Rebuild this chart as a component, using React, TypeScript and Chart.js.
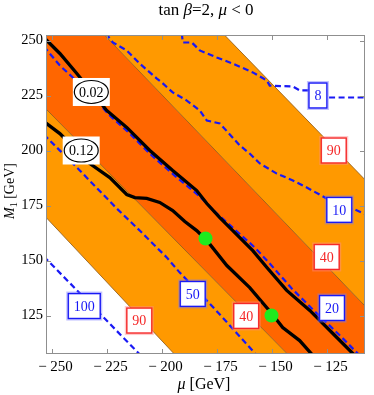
import React, { useEffect, useRef } from 'react';
import { Chart, registerables } from 'chart.js';

Chart.register(...registerables);

// ---- axis ranges and ticks ----
const X_MIN = -252.5;
const X_MAX = -107.5;
const Y_MIN = 107.5;
const Y_MAX = 252.5;
const xTicks = [-250, -225, -200, -175, -150, -125];
const yTicks = [125, 150, 175, 200, 225, 250];

// ---- filled band boundaries (mu, M1) ----
const bandUpperWhite = [{ x: -260, y: 343.8 }, { x: -100, y: 179.0 }];
const bandUpperDark = [{ x: -260, y: 287.9 }, { x: -100, y: 121.5 }];
const bandLowerDark = [{ x: -260, y: 226.5 }, { x: -100, y: 64.1 }];
const bandLowerWhite = [{ x: -260, y: 177.6 }, { x: -100, y: 7.2 }];

// ---- dashed blue contours ----
const contour8 = [
  { x: -190.8, y: 253.2 }, { x: -190.3, y: 249.1 }, { x: -186.2, y: 249.1 }, { x: -182.6, y: 245.5 },
  { x: -174.9, y: 242.3 }, { x: -167.6, y: 239.5 }, { x: -158.5, y: 235.5 }, { x: -152.1, y: 231.8 },
  { x: -150.8, y: 229.5 }, { x: -140.3, y: 229.1 }, { x: -137.2, y: 227.3 }, { x: -133.5, y: 227.3 },
  { x: -128.9, y: 224.5 }, { x: -124.9, y: 224.1 }, { x: -106.1, y: 224.1 },
];
const contour10 = [
  { x: -225.3, y: 253.2 }, { x: -222.1, y: 249.1 }, { x: -215.8, y: 245.5 }, { x: -209.9, y: 239.5 },
  { x: -202.1, y: 232.7 }, { x: -199.4, y: 230.5 }, { x: -194.9, y: 226.4 }, { x: -188.5, y: 222.7 },
  { x: -182.6, y: 218.2 }, { x: -179.4, y: 213.6 }, { x: -173.5, y: 212.3 }, { x: -164.4, y: 202.3 },
  { x: -159.9, y: 198.6 }, { x: -155.3, y: 194.1 }, { x: -147.6, y: 189.5 }, { x: -140.3, y: 186.4 },
  { x: -134.0, y: 183.2 }, { x: -124.9, y: 178.2 }, { x: -119.4, y: 173.2 }, { x: -113.0, y: 173.6 },
  { x: -106.1, y: 170.5 },
];
const contour20 = [
  { x: -253.5, y: 247.3 }, { x: -246.2, y: 238.6 }, { x: -240.3, y: 233.2 }, { x: -232.6, y: 225.9 },
  { x: -223.5, y: 215.9 }, { x: -214.4, y: 207.7 }, { x: -204.4, y: 197.7 }, { x: -194.0, y: 188.6 },
  { x: -182.6, y: 179.1 }, { x: -174.9, y: 171.4 }, { x: -166.7, y: 164.1 }, { x: -157.6, y: 155.9 },
  { x: -150.8, y: 148.6 }, { x: -140.8, y: 137.3 }, { x: -131.7, y: 128.2 }, { x: -118.9, y: 115.9 },
  { x: -109.0, y: 105.9 },
];
const contour50 = [
  { x: -253.5, y: 207.3 }, { x: -238.5, y: 192.3 }, { x: -220.3, y: 173.6 }, { x: -209.9, y: 163.6 },
  { x: -197.6, y: 151.4 }, { x: -191.7, y: 144.5 }, { x: -179.4, y: 131.8 }, { x: -172.6, y: 124.5 },
  { x: -155.8, y: 105.9 },
];
const contour100 = [
  { x: -253.5, y: 151.8 }, { x: -231.0, y: 128.9 }, { x: -208.5, y: 105.9 },
];

// ---- solid black contours ----
const contour002 = [
  { x: -253.5, y: 251.4 }, { x: -246.2, y: 244.1 }, { x: -238.5, y: 235.0 }, { x: -224.9, y: 218.2 },
  { x: -215.8, y: 210.5 }, { x: -205.3, y: 200.0 }, { x: -194.9, y: 190.9 }, { x: -184.0, y: 181.8 },
  { x: -179.4, y: 175.9 }, { x: -173.5, y: 169.5 }, { x: -167.6, y: 163.6 }, { x: -158.5, y: 154.5 },
  { x: -152.1, y: 146.8 }, { x: -143.1, y: 136.4 }, { x: -132.6, y: 127.3 }, { x: -122.1, y: 116.8 },
  { x: -111.2, y: 105.9 },
];
const contour012 = [
  { x: -253.5, y: 213.2 }, { x: -246.2, y: 207.7 }, { x: -232.6, y: 194.1 }, { x: -223.5, y: 187.7 },
  { x: -215.8, y: 180.0 }, { x: -212.1, y: 178.6 }, { x: -206.7, y: 178.2 }, { x: -200.8, y: 176.4 },
  { x: -194.9, y: 172.7 }, { x: -189.4, y: 167.7 }, { x: -184.0, y: 163.6 }, { x: -179.4, y: 159.1 },
  { x: -170.3, y: 147.7 }, { x: -159.9, y: 137.7 }, { x: -149.9, y: 125.9 }, { x: -144.9, y: 119.5 },
  { x: -137.2, y: 113.6 }, { x: -130.8, y: 106.4 },
];

// ---- green benchmark points ----
const greenPoints = [{ x: -180, y: 160 }, { x: -150, y: 125 }];

// ---- contour labels ----
const boxLabelText = ['8', '10', '20', '50', '100', '90', '40', '40', '90'];
const boxLabelX = [-128.9, -119.2, -122.5, -185.8, -235.1, -121.7, -124.9, -161.5, -210.1];
const boxLabelY = [225.0, 173.0, 128.4, 134.8, 129.3, 200.0, 151.6, 124.8, 122.7];
const boxLabelKind = ['b', 'b', 'b', 'b', 'b', 'r', 'r', 'r', 'r'];
const ovalLabelText = ['0.02', '0.12'];
const ovalLabelX = [-231.9, -236.5];
const ovalLabelY = [226.6, 200.0];

const LIGHT = 'rgb(255,153,0)';
const DARK = 'rgb(255,102,0)';
const BROWN = 'rgba(145,90,20,0.95)';
const BLUE = 'rgb(25,25,245)';
const RED = 'rgb(245,40,40)';
const SERIF = '"Liberation Serif", "Times New Roman", serif';

const fmtX = (v: number) => (v < 0 ? '\u2212 ' + Math.abs(v) : String(v));

const drawParts = (ctx: CanvasRenderingContext2D, parts: [string, boolean][], cx: number, y: number, size: number) => {
  let total = 0;
  const widths = parts.map(([t, it]) => {
    ctx.font = (it ? 'italic ' : '') + size + 'px ' + SERIF;
    const w = ctx.measureText(t).width;
    total += w;
    return w;
  });
  let x = cx - total / 2;
  parts.forEach(([t, it], i) => {
    ctx.font = (it ? 'italic ' : '') + size + 'px ' + SERIF;
    ctx.fillText(t, x, y);
    x += widths[i];
  });
};

const decorPlugin = {
  id: 'decor',
  afterDatasetsDraw(chart: any) {
    const { ctx, scales } = chart;
    const xs = scales.x;
    const ys = scales.y;
    ctx.save();
    ctx.textAlign = 'center';
    ctx.textBaseline = 'middle';
    boxLabelText.forEach((t, i) => {
      const px = xs.getPixelForValue(boxLabelX[i]);
      const py = ys.getPixelForValue(boxLabelY[i]);
      ctx.font = '14px ' + SERIF;
      const w = ctx.measureText(t).width + 11;
      const h = 25;
      const col = boxLabelKind[i] === 'b' ? BLUE : RED;
      const halo = boxLabelKind[i] === 'b' ? 'rgba(120,120,255,0.45)' : 'rgba(255,140,140,0.45)';
      ctx.fillStyle = '#ffffff';
      ctx.fillRect(px - w / 2, py - h / 2, w, h);
      ctx.strokeStyle = halo;
      ctx.lineWidth = 3;
      ctx.strokeRect(px - w / 2 - 0.5, py - h / 2 - 0.5, w + 1, h + 1);
      ctx.strokeStyle = col;
      ctx.lineWidth = 1.3;
      ctx.strokeRect(px - w / 2, py - h / 2, w, h);
      ctx.fillStyle = col;
      ctx.fillText(t, px, py + 1);
    });
    ovalLabelText.forEach((t, i) => {
      const px = xs.getPixelForValue(ovalLabelX[i]);
      const py = ys.getPixelForValue(ovalLabelY[i]);
      ctx.fillStyle = '#ffffff';
      ctx.fillRect(px - 18.5, py - 14, 37, 28);
      ctx.beginPath();
      ctx.ellipse(px, py, 17, 11.5, 0, 0, Math.PI * 2);
      ctx.strokeStyle = '#000';
      ctx.lineWidth = 1.2;
      ctx.stroke();
      ctx.font = '14px ' + SERIF;
      ctx.fillStyle = '#000';
      ctx.fillText(t, px, py + 1);
    });
    ctx.restore();
  },
  afterDraw(chart: any) {
    const { ctx, chartArea: a, scales } = chart;
    ctx.save();
    ctx.strokeStyle = '#8f8f8f';
    ctx.lineWidth = 1;
    ctx.strokeRect(Math.round(a.left) + 0.5, Math.round(a.top) + 0.5, Math.round(a.right - a.left) - 1, Math.round(a.bottom - a.top) - 1);
    ctx.beginPath();
    xTicks.forEach((v) => {
      const p = Math.round(scales.x.getPixelForValue(v)) + 0.5;
      ctx.moveTo(p, a.bottom);
      ctx.lineTo(p, a.bottom - 5);
      ctx.moveTo(p, a.top);
      ctx.lineTo(p, a.top + 5);
    });
    yTicks.forEach((v) => {
      const p = Math.round(scales.y.getPixelForValue(v)) + 0.5;
      ctx.moveTo(a.left, p);
      ctx.lineTo(a.left + 5, p);
      ctx.moveTo(a.right, p);
      ctx.lineTo(a.right - 5, p);
    });
    ctx.stroke();
    ctx.fillStyle = '#000';
    ctx.textAlign = 'left';
    ctx.textBaseline = 'alphabetic';
    drawParts(ctx, [['tan ', false], ['\u03B2', true], ['=2, ', false], ['\u03BC', true], [' < 0', false]], 206, 15, 17);
    drawParts(ctx, [['\u03BC', true], [' [GeV]', false]], 204, 389, 16);
    ctx.translate(14, 191);
    ctx.rotate(-Math.PI / 2);
    ctx.font = 'italic 14px ' + SERIF;
    const wM = ctx.measureText('M').width;
    ctx.font = '10px ' + SERIF;
    const w1 = ctx.measureText('1').width;
    ctx.font = '14px ' + SERIF;
    const wG = ctx.measureText(' [GeV]').width;
    let x0 = -(wM + w1 + wG) / 2;
    ctx.font = 'italic 14px ' + SERIF;
    ctx.fillText('M', x0, 0);
    x0 += wM;
    ctx.font = '10px ' + SERIF;
    ctx.fillText('1', x0, 3);
    x0 += w1;
    ctx.font = '14px ' + SERIF;
    ctx.fillText(' [GeV]', x0, 0);
    ctx.restore();
  },
};

const line = (data: any[], color: string, width: number, dash: number[]) => ({
  type: 'line',
  data,
  borderColor: color,
  borderWidth: width,
  borderDash: dash,
  pointRadius: 0,
  fill: false,
  tension: 0,
  order: 2,
});

export default function App() {
  const ref = useRef<HTMLCanvasElement>(null);
  useEffect(() => {
    if (!ref.current) return;
    const chart = new Chart(ref.current, {
      type: 'line',
      data: {
        datasets: [
          { data: bandUpperWhite, borderColor: BROWN, borderWidth: 0.9, backgroundColor: LIGHT, fill: '+1', pointRadius: 0, order: 5 },
          { data: bandUpperDark, borderColor: BROWN, borderWidth: 0.9, backgroundColor: DARK, fill: '+1', pointRadius: 0, order: 5 },
          { data: bandLowerDark, borderColor: BROWN, borderWidth: 0.9, backgroundColor: LIGHT, fill: '+1', pointRadius: 0, order: 5 },
          { data: bandLowerWhite, borderColor: BROWN, borderWidth: 0.9, fill: false, pointRadius: 0, order: 5 },
          line(contour8, BLUE, 2.2, [6, 3.5]),
          line(contour10, BLUE, 2.2, [6, 3.5]),
          line(contour50, BLUE, 2.2, [6, 3.5]),
          line(contour100, BLUE, 2.2, [6, 3.5]),
          line(contour002, '#000', 3.3, []),
          line(contour012, '#000', 3.3, []),
          line(contour20, BLUE, 2.2, [6, 3.5]),
          {
            data: greenPoints,
            showLine: false,
            pointRadius: 7,
            pointBackgroundColor: 'rgb(30,235,30)',
            pointBorderWidth: 0,
            order: 0,
          },
        ] as any,
      },
      options: {
        responsive: false,
        animation: false,
        devicePixelRatio: 1,
        layout: { padding: { top: 35, right: 9, left: 0, bottom: 0 } },
        plugins: {
          legend: { display: false },
          tooltip: { enabled: false },
          filler: { propagate: false, drawTime: 'beforeDatasetsDraw' },
        },
        scales: {
          x: {
            type: 'linear',
            min: X_MIN,
            max: X_MAX,
            grid: { display: false, drawTicks: false },
            border: { display: false },
            afterFit: (s: any) => { s.height = 41; },
            afterBuildTicks: (s: any) => { s.ticks = xTicks.map((v) => ({ value: v })); },
            ticks: {
              autoSkip: false,
              maxRotation: 0,
              padding: 4,
              labelOffset: 4,
              color: '#000',
              font: { family: SERIF, size: 15 },
              callback: (v: any) => fmtX(Number(v)),
            },
          },
          y: {
            type: 'linear',
            min: Y_MIN,
            max: Y_MAX,
            grid: { display: false, drawTicks: false },
            border: { display: false },
            afterFit: (s: any) => { s.width = 46; },
            afterBuildTicks: (s: any) => { s.ticks = yTicks.map((v) => ({ value: v })); },
            ticks: {
              autoSkip: false,
              padding: 3,
              color: '#000',
              font: { family: SERIF, size: 14.5 },
              callback: (v: any) => String(v),
            },
          },
        },
      } as any,
      plugins: [decorPlugin],
    });
    return () => chart.destroy();
  }, []);
  return (
    <div style={{ position: 'absolute', left: 0, top: 0, width: 374, height: 395, background: '#fff' }}>
      <canvas ref={ref} width={374} height={395} style={{ display: 'block', width: 374, height: 395 }} />
    </div>
  );
}
